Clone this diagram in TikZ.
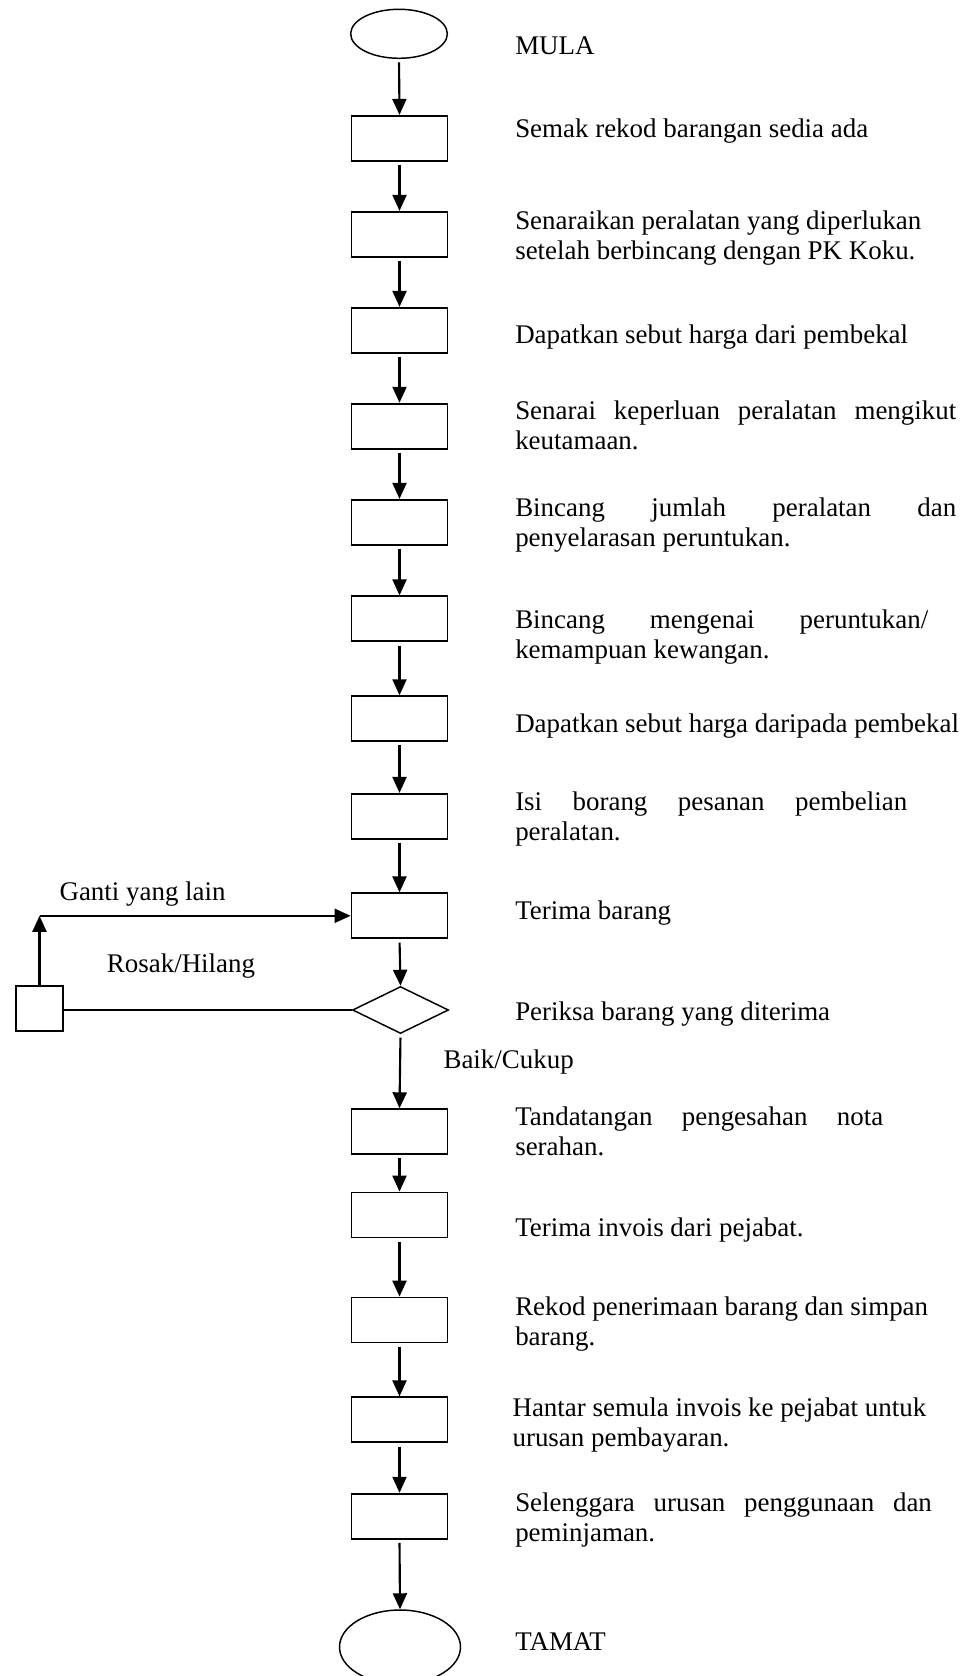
\documentclass[tikz,border=0pt]{standalone}
\usepackage{fontspec}
\setmainfont{Liberation Serif}
\usetikzlibrary{arrows.meta,shapes.geometric}

% a line stretched to a given width (justified first line)
\newcommand{\jline}[2]{\makebox[#1][s]{#2}}
% stacked lines, anchored at the first baseline
\newcommand{\lines}[1]{\begin{tabular}[t]{@{}l@{}}#1\end{tabular}}

\tikzset{
  procbox/.style={draw, line width=1.35pt, minimum width=72pt, minimum height=33.75pt, inner sep=0pt},
  endcap/.style={draw, ellipse, line width=1.1pt, inner sep=0pt},
  decide/.style={draw, diamond, line width=1.1pt, minimum width=72pt, minimum height=35.25pt, inner sep=0pt},
  note/.style={anchor=base west, inner sep=0pt, font=\fontsize{20.2pt}{22.5pt}\selectfont},
  flow/.style={line width=1.6pt, -{Triangle[length=12pt,width=10.5pt]}},
  plain/.style={line width=1.6pt},
}

\begin{document}
\begin{tikzpicture}[x=0.75pt, y=-0.75pt]
  \useasboundingbox (0,0) rectangle (967,1676);

  % main column of steps
  \node[endcap, minimum width=72.5pt, minimum height=36.75pt] (start) at (399,33.8) {};
  \node[procbox] (b1)  at (399.5,138.3) {};
  \node[procbox] (b2)  at (399.5,234.3) {};
  \node[procbox] (b3)  at (399.5,330.3) {};
  \node[procbox] (b4)  at (399.5,426.2) {};
  \node[procbox] (b5)  at (399.5,522.3) {};
  \node[procbox] (b6)  at (399.5,618.8) {};
  \node[procbox] (b7)  at (399.5,718.7) {};
  \node[procbox] (b8)  at (399.5,816.3) {};
  \node[procbox] (b9)  at (399.5,915.8) {};
  \node[decide]  (chk) at (400.5,1010) {};
  \node[procbox] (b10) at (399.5,1131.7) {};
  \node[procbox] (b11) at (399.5,1215) {};
  \node[procbox] (b12) at (399.5,1320) {};
  \node[procbox] (b13) at (399.5,1419.8) {};
  \node[procbox] (b14) at (399.5,1516.2) {};
  \node[endcap, minimum width=90.75pt, minimum height=55.5pt] (stop) at (400,1647) {};

  % side box for damaged / missing goods
  \node[procbox, minimum width=35.7pt, minimum height=33.5pt] (side) at (39.5,1008.3) {};
  \coordinate (turn) at (side.north |- b9.west);

  % connectors
  \foreach \a/\b in {start/b1, b1/b2, b2/b3, b3/b4, b4/b5, b5/b6, b6/b7, b7/b8, b8/b9,
                     b9/chk, chk/b10, b10/b11, b11/b12, b12/b13, b13/b14, b14/stop}
    \draw[flow, shorten <=2.5pt] (\a.south) -- (\b.north);
  \draw[plain] (chk.west) -- (chk.west -| side.east);
  \draw[flow] (side.north) -- (turn);
  \draw[flow] (turn) -- (b9.west);

  % branch labels
  \node[note] (lblganti) at (59.3,900.7) {Ganti yang lain};
  \node[note] (lblrosak) at (106.7,972.7) {Rosak/Hilang};
  \node[note] (lblbaik)  at (443.3,1068.3) {Baik/Cukup};

  % step descriptions
  \node[note] (t0)  at (515,55) {MULA};
  \node[note] (t1)  at (515,137.3) {Semak rekod barangan sedia ada};
  \node[note] (t2)  at (515,229.3) {\lines{Senaraikan peralatan yang diperlukan\\setelah berbincang dengan PK Koku.}};
  \node[note] (t3)  at (515,343.3) {Dapatkan sebut harga dari pembekal};
  \node[note] (t4)  at (515,419.3) {\lines{\jline{330.75pt}{Senarai keperluan peralatan mengikut}\\keutamaan.}};
  \node[note] (t5)  at (515,516.7) {\lines{\jline{330.75pt}{Bincang jumlah peralatan dan}\\penyelarasan peruntukan.}};
  \node[note] (t6)  at (515,628.3) {\lines{\jline{309.75pt}{Bincang mengenai peruntukan/}\\kemampuan kewangan.}};
  \node[note] (t7)  at (515,732.7) {Dapatkan sebut harga daripada pembekal};
  \node[note] (t8)  at (515,810) {\lines{\jline{294pt}{Isi borang pesanan pembelian}\\peralatan.}};
  \node[note] (t9)  at (515,919.3) {Terima barang};
  \node[note] (t10) at (515,1020.7) {Periksa barang yang diterima};
  \node[note] (t11) at (515,1125) {\lines{\jline{276pt}{Tandatangan pengesahan nota}\\serahan.}};
  \node[note] (t12) at (515,1236.7) {Terima invois dari pejabat.};
  \node[note] (t13) at (515,1315) {\lines{Rekod penerimaan barang dan simpan\\barang.}};
  \node[note] (t14) at (512.3,1416.7) {\lines{Hantar semula invois ke pejabat untuk\\urusan pembayaran.}};
  \node[note] (t15) at (515,1511.7) {\lines{\jline{312.5pt}{Selenggara urusan penggunaan dan}\\peminjaman.}};
  \node[note] (t16) at (515,1650) {TAMAT};
\end{tikzpicture}
\end{document}
